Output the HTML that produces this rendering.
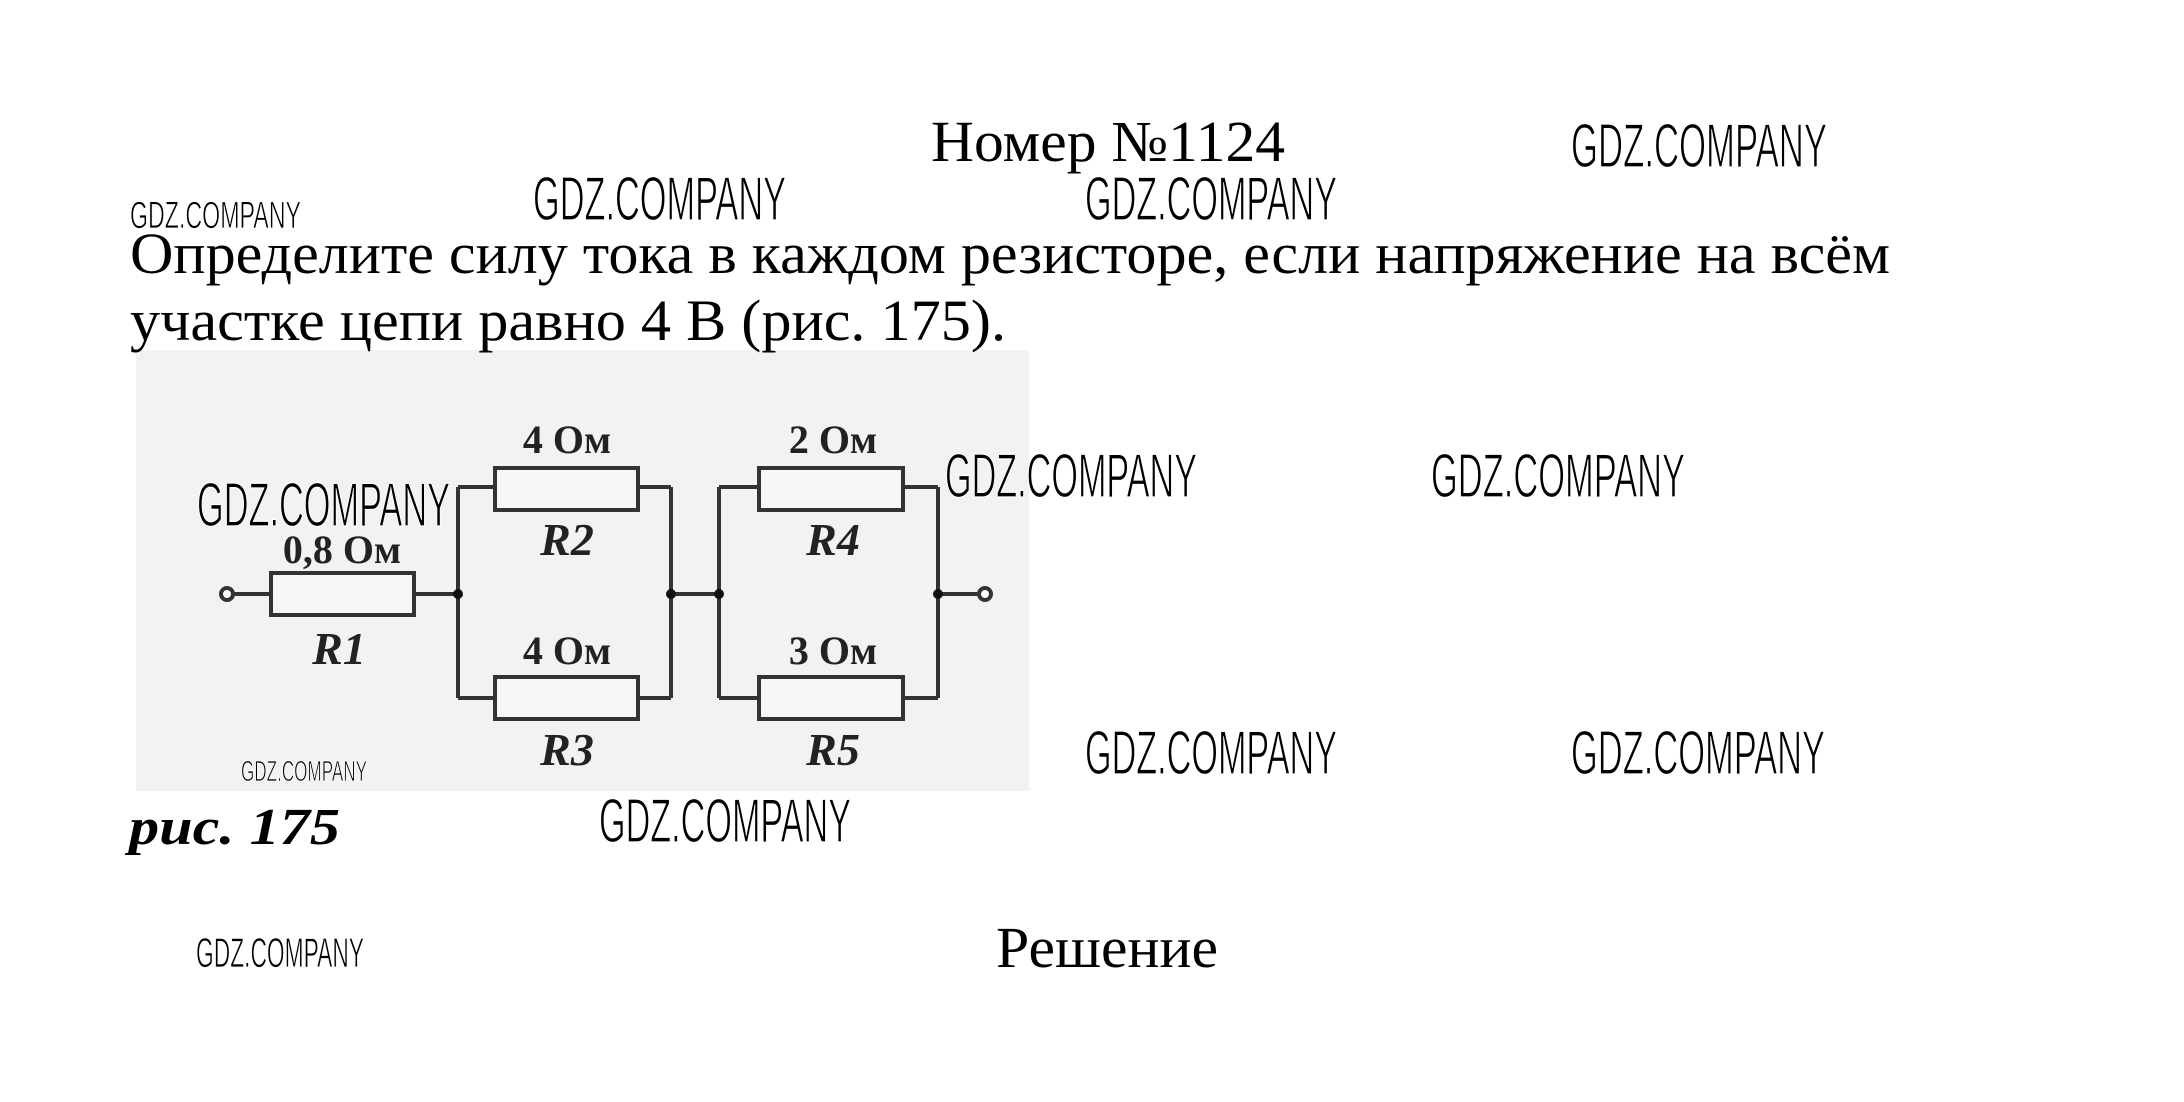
<!DOCTYPE html>
<html><head><meta charset="utf-8"><style>
html,body{margin:0;padding:0;background:#fff;}
svg{display:block;}
.s{font-family:"Liberation Serif","DejaVu Serif",serif;fill:#000;}
.w{font-family:"Liberation Sans","DejaVu Sans",sans-serif;fill:#000;stroke:#fff;stroke-width:1.2px;paint-order:normal;}
.lb{font-family:"Liberation Serif",serif;font-weight:bold;fill:#222;}
</style></head><body>
<svg width="2184" height="1102" viewBox="0 0 2184 1102" xmlns="http://www.w3.org/2000/svg">
<rect width="2184" height="1102" fill="#fff"/>
<rect x="136" y="350" width="893" height="441" fill="#f2f2f2"/>
<text class="s" x="931" y="161" font-size="58" textLength="354" lengthAdjust="spacingAndGlyphs">Номер №1124</text>
<text class="s" x="130" y="273" font-size="58" textLength="1760" lengthAdjust="spacingAndGlyphs">Определите силу тока в каждом резисторе, если напряжение на всём</text>
<text class="s" x="130" y="340" font-size="58" textLength="876" lengthAdjust="spacingAndGlyphs">участке цепи равно 4 В (рис. 175).</text>
<text class="s" x="129" y="844" font-size="52" font-weight="bold" font-style="italic" textLength="211" lengthAdjust="spacingAndGlyphs">рис. 175</text>
<text class="s" x="996" y="967" font-size="58" textLength="222" lengthAdjust="spacingAndGlyphs">Решение</text>

<g stroke="#333" stroke-width="4" fill="none">
<circle cx="227" cy="594" r="6" fill="#fff"/>
<line x1="233" y1="594" x2="271" y2="594"/>
<rect x="271" y="573" width="143" height="42" fill="#f7f7f7"/>
<line x1="414" y1="594" x2="458" y2="594"/>
<line x1="458" y1="487" x2="458" y2="698"/>
<line x1="458" y1="487" x2="495" y2="487"/>
<line x1="458" y1="698" x2="495" y2="698"/>
<rect x="495" y="468" width="143" height="42" fill="#f7f7f7"/>
<rect x="495" y="677" width="143" height="42" fill="#f7f7f7"/>
<line x1="638" y1="487" x2="671" y2="487"/>
<line x1="638" y1="698" x2="671" y2="698"/>
<line x1="671" y1="487" x2="671" y2="698"/>
<line x1="671" y1="594" x2="719" y2="594"/>
<line x1="719" y1="487" x2="719" y2="698"/>
<line x1="719" y1="487" x2="759" y2="487"/>
<line x1="719" y1="698" x2="759" y2="698"/>
<rect x="759" y="468" width="144" height="42" fill="#f7f7f7"/>
<rect x="759" y="677" width="144" height="42" fill="#f7f7f7"/>
<line x1="903" y1="487" x2="938" y2="487"/>
<line x1="903" y1="698" x2="938" y2="698"/>
<line x1="938" y1="487" x2="938" y2="698"/>
<line x1="938" y1="594" x2="979" y2="594"/>
<circle cx="985" cy="594" r="6" fill="#fff"/>
</g>
<g fill="#111">
<circle cx="458" cy="594" r="5"/><circle cx="671" cy="594" r="5"/>
<circle cx="719" cy="594" r="5"/><circle cx="938" cy="594" r="5"/>
</g>
<g class="lb" text-anchor="middle" font-size="40">
<text x="567" y="453">4 Ом</text>
<text x="833" y="453">2 Ом</text>
<text x="342" y="563">0,8 Ом</text>
<text x="567" y="664">4 Ом</text>
<text x="833" y="664">3 Ом</text>
<g font-style="italic" font-size="46">
<text x="567" y="555">R2</text>
<text x="833" y="555">R4</text>
<text x="339" y="664">R1</text>
<text x="567" y="765">R3</text>
<text x="833" y="765">R5</text>
</g>
</g>

<g class="w" font-size="62">
<text x="1571" y="167" textLength="256" lengthAdjust="spacingAndGlyphs">GDZ.COMPANY</text>
<text x="533" y="220" textLength="253" lengthAdjust="spacingAndGlyphs">GDZ.COMPANY</text>
<text x="1085" y="220" textLength="252" lengthAdjust="spacingAndGlyphs">GDZ.COMPANY</text>
<text x="197" y="526" textLength="253" lengthAdjust="spacingAndGlyphs">GDZ.COMPANY</text>
<text x="945" y="497" textLength="252" lengthAdjust="spacingAndGlyphs">GDZ.COMPANY</text>
<text x="1431" y="497" textLength="254" lengthAdjust="spacingAndGlyphs">GDZ.COMPANY</text>
<text x="1085" y="774" textLength="252" lengthAdjust="spacingAndGlyphs">GDZ.COMPANY</text>
<text x="1571" y="774" textLength="254" lengthAdjust="spacingAndGlyphs">GDZ.COMPANY</text>
<text x="599" y="842" textLength="252" lengthAdjust="spacingAndGlyphs">GDZ.COMPANY</text>
</g>
<g class="w" style="stroke-width:0.8px">
<text x="130" y="228" font-size="38" textLength="171" lengthAdjust="spacingAndGlyphs">GDZ.COMPANY</text>
<text x="241" y="781" font-size="29" textLength="126" lengthAdjust="spacingAndGlyphs">GDZ.COMPANY</text>
<text x="196" y="967" font-size="42" textLength="168" lengthAdjust="spacingAndGlyphs">GDZ.COMPANY</text>
</g>
</svg>
</body></html>
